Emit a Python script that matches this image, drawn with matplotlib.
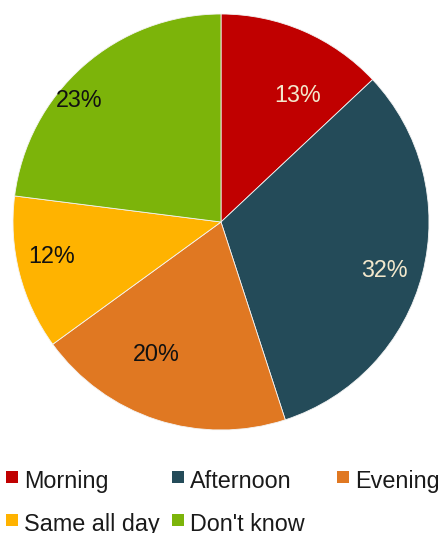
import numpy as np
import matplotlib.pyplot as plt
from matplotlib.patches import Rectangle

plt.rcParams['font.family'] = ['Liberation Sans', 'DejaVu Sans']

# Data
categories = ['Morning', 'Afternoon', 'Evening', 'Same all day', "Don't know"]
shares = [13, 32, 20, 12, 23]
colors = ['#c00000', '#244b59', '#e07822', '#ffb300', '#7cb40a']
label_colors = ['#f3e8cc', '#f3e8cc', '#111111', '#111111', '#111111']

# label placement tweaks (fraction of radius, rotation in degrees)
label_r = [0.71, 0.82, 0.71, 0.83, 0.90]
label_turn = [-8, -2, -8, -3, 8]

W, H = 442, 533
fig = plt.figure(figsize=(W / 100, H / 100), dpi=100)

# pie axes: centre ~ (221, 222) px, radius ~208 px
ax = fig.add_axes([13 / W, (H - 430) / H, 416 / W, 416 / H])
wedges, _ = ax.pie(shares, colors=colors, startangle=90, counterclock=False,
                   radius=1, wedgeprops=dict(edgecolor='#f4f4f4', linewidth=0.6))
ax.set_xlim(-1, 1)
ax.set_ylim(-1, 1)
ax.set_aspect('equal')
ax.axis('off')

for w, v, c, r, t in zip(wedges, shares, label_colors, label_r, label_turn):
    ang = np.deg2rad((w.theta1 + w.theta2) / 2 + t)
    ax.text(r * np.cos(ang), r * np.sin(ang), f'{v}%', color=c, fontsize=16.8,
            ha='center', va='center')

# legend, drawn manually in a 3-column grid
col_x = [6, 172, 337]
row_y = [488, 531]
for i, (lab, c) in enumerate(zip(categories, colors)):
    x0 = col_x[i % 3]
    yb = row_y[i // 3]
    fig.patches.append(Rectangle((x0 / W, (H - yb + 5) / H), 12 / W, 12 / H,
                                 transform=fig.transFigure, facecolor=c,
                                 edgecolor='none'))
    fig.text((x0 + 18) / W, (H - yb) / H, lab, fontsize=16.8, color='#1a1a1a',
             ha='left', va='baseline')

fig.savefig('out.png', dpi=100)
